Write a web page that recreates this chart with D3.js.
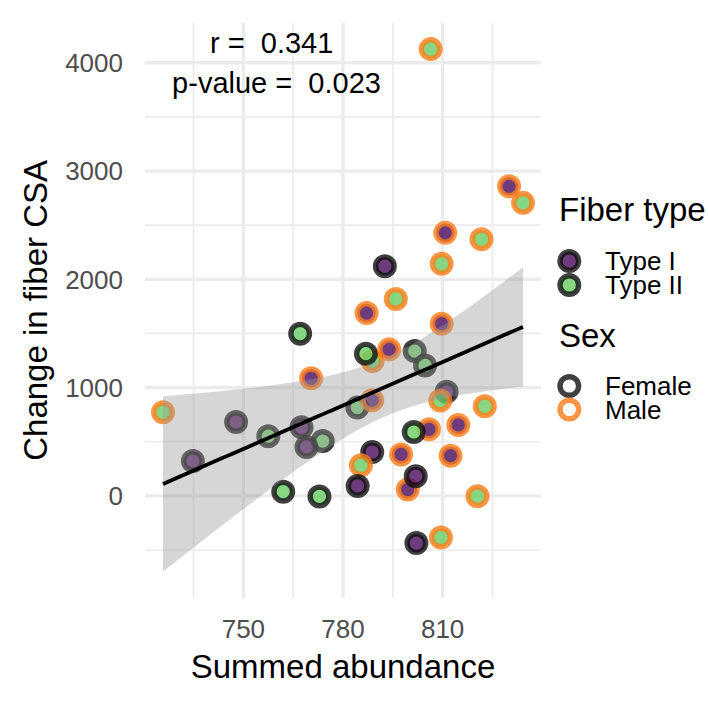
<!DOCTYPE html>
<html><head><meta charset="utf-8">
<script src="https://cdn.jsdelivr.net/npm/d3@7"></script>
<style>
body{margin:0;background:#fff}
text{font-family:"Liberation Sans",Arial,Helvetica,sans-serif;white-space:pre}
</style>
</head><body>
<svg id="chart" width="708" height="708"></svg>
<script>
// ---- data ----
const abundance = [806.4,830.0,834.2,810.8,821.7,792.6,809.7,795.9,787.1,809.7,767.1,788.9,786.9,793.9,801.6,804.7,770.4,811.2,809.3,784.3,788.8,725.8,747.8,757.5,767.5,773.9,769.0,822.7,805.9,801.3,814.7,788.8,797.5,812.4,785.4,734.8,799.5,801.9,784.4,762.0,772.9,820.5,809.5,802.1];
const csaChange = [4126,2859,2706,2429,2370,2121,2143,1819,1688,1590,1498,1245,1313,1353,1337,1205,1086,961,880,815,883,772,682,551,634,506,452,827,615,590,655,405,383,371,283,323,59,182,92,39,-5,-3,-384,-436];
const fiberType = ["II","I","II","I","II","I","II","II","I","I","II","II","II","I","II","II","I","I","II","II","I","II","I","II","I","II","I","II","I","II","I","I","I","I","II","I","I","I","I","II","II","II","II","I"];
const sex = ["M","M","M","M","M","F","M","M","M","M","F","M","F","M","F","F","M","F","M","F","M","M","F","F","F","F","F","M","M","F","M","F","M","M","M","F","M","F","F","F","F","M","M","F"];
const xTicks = [750,780,810];
const xMinor = [735,765,795,825];
const yTicks = [0,1000,2000,3000,4000];
const yMinor = [-500,500,1500,2500,3500];
const fiberLevels = ["I","II"], fiberNames = ["Type I","Type II"];
const sexLevels = ["F","M"], sexNames = ["Female","Male"];
const statLines = ["r =  0.341","p-value =  0.023"];

// ---- styles ----
const fillCol = d3.scaleOrdinal().domain(fiberLevels).range(["#4a0b5c","#69cd63"]);
const strokeCol = d3.scaleOrdinal().domain(sexLevels).range(["#101010","#ff7c18"]);
const ALPHA = 0.8, R = 9.3, SW = 5.4;

const pts = abundance.map((x,i)=>({x, y:csaChange[i], f:fiberType[i], s:sex[i]}));

// ---- linear fit + 95% CI (like geom_smooth(method="lm")) ----
const n = pts.length;
const mx = d3.mean(pts,d=>d.x), my = d3.mean(pts,d=>d.y);
const sxx = d3.sum(pts,d=>(d.x-mx)**2), sxy = d3.sum(pts,d=>(d.x-mx)*(d.y-my));
const b = sxy/sxx, a = my - b*mx;
const rss = d3.sum(pts,d=>(d.y-(a+b*d.x))**2);
const sres = Math.sqrt(rss/(n-2));
const tq = 2.0181;
const [x0,x1] = d3.extent(pts,d=>d.x);
const fit = d3.range(80).map(k=>{
  const x = x0 + (x1-x0)*k/79;
  const yh = a+b*x;
  const se = sres*Math.sqrt(1/n + (x-mx)**2/sxx);
  return {x, y:yh, lo:yh-tq*se, hi:yh+tq*se};
});

// ---- scales ----
const xr = x1-x0;
const yLo = Math.min(d3.min(pts,d=>d.y), d3.min(fit,d=>d.lo));
const yHi = Math.max(d3.max(pts,d=>d.y), d3.max(fit,d=>d.hi));
const yrg = yHi-yLo;
const L=145, Rt=541, T=23, B=597.7;
const x = d3.scaleLinear().domain([x0-0.05*xr, x1+0.05*xr]).range([L,Rt]);
const y = d3.scaleLinear().domain([yLo-0.05*yrg, yHi+0.05*yrg]).range([B,T]);

const svg = d3.select("#chart");
svg.append("rect").attr("width",708).attr("height",708).attr("fill","#fff");

// grid
const g = svg.append("g");
g.selectAll(".vmin").data(xMinor).join("line").attr("x1",d=>x(d)).attr("x2",d=>x(d)).attr("y1",T).attr("y2",B).attr("stroke","#ebebeb").attr("stroke-width",1.7);
g.selectAll(".hmin").data(yMinor).join("line").attr("y1",d=>y(d)).attr("y2",d=>y(d)).attr("x1",L).attr("x2",Rt).attr("stroke","#ebebeb").attr("stroke-width",1.7);
g.selectAll(".vmaj").data(xTicks).join("line").attr("x1",d=>x(d)).attr("x2",d=>x(d)).attr("y1",T).attr("y2",B).attr("stroke","#ebebeb").attr("stroke-width",3.3);
g.selectAll(".hmaj").data(yTicks).join("line").attr("y1",d=>y(d)).attr("y2",d=>y(d)).attr("x1",L).attr("x2",Rt).attr("stroke","#ebebeb").attr("stroke-width",3.3);

// points
svg.append("g").selectAll("circle").data(pts).join("circle")
  .attr("cx",d=>x(d.x)).attr("cy",d=>y(d.y)).attr("r",R)
  .attr("fill",d=>fillCol(d.f)).attr("fill-opacity",ALPHA)
  .attr("stroke",d=>strokeCol(d.s)).attr("stroke-opacity",ALPHA).attr("stroke-width",SW);

// ribbon + line
svg.append("path").datum(fit)
  .attr("d", d3.area().x(d=>x(d.x)).y0(d=>y(d.lo)).y1(d=>y(d.hi)))
  .attr("fill","#999999").attr("fill-opacity",0.4);
svg.append("path").datum(fit)
  .attr("d", d3.line().x(d=>x(d.x)).y(d=>y(d.y)))
  .attr("fill","none").attr("stroke","#000").attr("stroke-width",3.8);

// axes labels
svg.append("g").selectAll("text").data(xTicks).join("text")
  .attr("x",d=>x(d)).attr("y",638.3).attr("text-anchor","middle")
  .attr("font-size",26).attr("fill","#4d4d4d").text(d=>d);
svg.append("g").selectAll("text").data(yTicks).join("text")
  .attr("x",123).attr("y",d=>y(d)+9.3).attr("text-anchor","end")
  .attr("font-size",26).attr("fill","#4d4d4d").text(d=>d);
svg.append("text").attr("x",(L+Rt)/2).attr("y",678.3).attr("text-anchor","middle")
  .attr("font-size",33).attr("fill","#000").text("Summed abundance");
svg.append("text").attr("transform",`translate(47,${(T+B)/2}) rotate(-90)`).attr("text-anchor","middle")
  .attr("font-size",33).attr("fill","#000").text("Change in fiber CSA");

// stats annotation
svg.append("text").attr("x",271.7).attr("y",52.7).attr("text-anchor","middle").attr("font-size",29).attr("fill","#000").text(statLines[0]);
svg.append("text").attr("x",276.5).attr("y",92.7).attr("text-anchor","middle").attr("font-size",29).attr("fill","#000").text(statLines[1]);

// legends
const lg = svg.append("g");
lg.append("text").attr("x",559).attr("y",221).attr("font-size",33).attr("fill","#000").text("Fiber type");
fiberLevels.forEach((f,i)=>{
  const cy = 261 + i*24;
  lg.append("circle").attr("cx",569.3).attr("cy",cy).attr("r",R)
    .attr("fill",fillCol(f)).attr("fill-opacity",ALPHA)
    .attr("stroke",strokeCol("F")).attr("stroke-opacity",ALPHA).attr("stroke-width",SW);
  lg.append("text").attr("x",605).attr("y",cy+9.3).attr("font-size",26).attr("fill","#000").text(fiberNames[i]);
});
lg.append("text").attr("x",559).attr("y",346.7).attr("font-size",33).attr("fill","#000").text("Sex");
sexLevels.forEach((s,i)=>{
  const cy = 386 + i*23.5;
  lg.append("circle").attr("cx",569.3).attr("cy",cy).attr("r",R)
    .attr("fill","#fff")
    .attr("stroke",strokeCol(s)).attr("stroke-opacity",ALPHA).attr("stroke-width",SW);
  lg.append("text").attr("x",605).attr("y",cy+9.3).attr("font-size",26).attr("fill","#000").text(sexNames[i]);
});
</script>
</body></html>
